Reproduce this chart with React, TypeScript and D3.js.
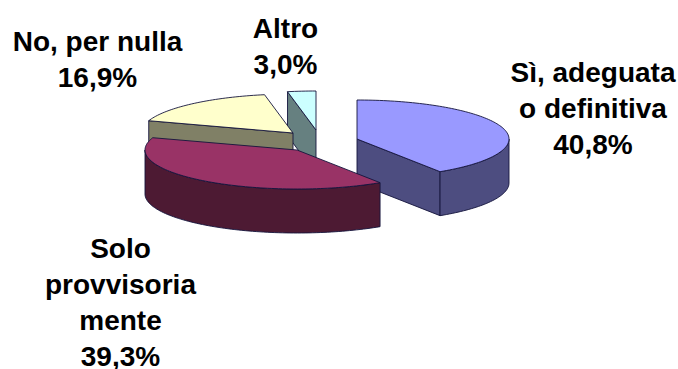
import React from "react";
import * as d3 from "d3";

const sliceNames = ["Sì, adeguata o definitiva", "Solo provvisoriamente", "No, per nulla", "Altro"];
const sliceValues = [40.8, 39.3, 16.9, 3.0];
const topColors = ["#9999ff", "#993366", "#ffffcc", "#ccffff"];
const sideColors = ["#4d4d80", "#4d1a33", "#808066", "#668080"];

const labelLines = [
  ["Sì, adeguata", "o definitiva", "40,8%"],
  ["Solo", "provvisoria", "mente", "39,3%"],
  ["No, per nulla", "16,9%"],
  ["Altro", "3,0%"],
];
const labelAnchors = [
  { x: 593, y: 82 },
  { x: 120.5, y: 258 },
  { x: 97.5, y: 51 },
  { x: 285.5, y: 38 },
];
const lineHeight = 36;

// Exploded wedge centres on the projected plane
const centres = [
  { x: 357, y: 139 },
  { x: 297, y: 150 },
  { x: 293, y: 133 },
  { x: 316, y: 130 },
];
const RX = 152;
const RY = 39;
const DEPTH = 44;

const slices = d3.pie<number>().sort(null).value((v) => v)(sliceValues);
const sx = d3.scaleLinear().domain([-1, 1]).range([-RX, RX]);
const sy = d3.scaleLinear().domain([-1, 1]).range([RY, -RY]);

type Pt = [number, number];
const rim = (i: number, a: number, drop = 0): Pt => [
  centres[i].x + sx(Math.sin(a)),
  centres[i].y + sy(Math.cos(a)) + drop,
];
const arcPoints = (i: number, a0: number, a1: number, drop = 0): Pt[] => {
  const n = Math.max(2, Math.ceil(Math.abs(a1 - a0) * 40));
  return d3.range(n + 1).map((k) => rim(i, a0 + ((a1 - a0) * k) / n, drop));
};
const closed = d3.line();
const polygon = (pts: Pt[]) => closed(pts) + "Z";

const topFace = (i: number) => {
  const c: Pt = [centres[i].x, centres[i].y];
  return polygon([c, ...arcPoints(i, slices[i].startAngle, slices[i].endAngle)]);
};
// Outer wall, only the part facing the viewer (between 90° and 270°)
const outerWall = (i: number) => {
  const a0 = Math.max(slices[i].startAngle, Math.PI / 2);
  const a1 = Math.min(slices[i].endAngle, (3 * Math.PI) / 2);
  if (a1 <= a0) return null;
  return polygon([...arcPoints(i, a0, a1), ...arcPoints(i, a1, a0, DEPTH)]);
};
// Flat cut wall running from the rim at angle a to the wedge centre
const cutWall = (i: number, a: number) => {
  const c: Pt = [centres[i].x, centres[i].y];
  const r = rim(i, a);
  return polygon([c, r, [r[0], r[1] + DEPTH], [c[0], c[1] + DEPTH]]);
};

const stroke = "#14143c";

const Wedge = ({ i, cut }: { i: number; cut: number | null }) => {
  const wall = outerWall(i);
  return (
    <g stroke={stroke} strokeWidth={0.9} strokeLinejoin="round">
      <title>{sliceNames[i]}</title>
      {cut !== null && <path d={cutWall(i, cut)} fill={sideColors[i]} />}
      {wall && <path d={wall} fill={sideColors[i]} />}
      <path d={topFace(i)} fill={topColors[i]} />
    </g>
  );
};

export default function App() {
  return (
    <svg
      width={678}
      height={369}
      viewBox="0 0 678 369"
      style={{ position: "absolute", left: 0, top: 0, background: "#fff" }}
    >
      <Wedge i={3} cut={slices[3].startAngle} />
      <Wedge i={2} cut={slices[2].startAngle} />
      <Wedge i={0} cut={slices[0].endAngle} />
      <Wedge i={1} cut={null} />
      <g
        fontFamily="'Liberation Sans', Arial, sans-serif"
        fontWeight={700}
        fontSize={28}
        textAnchor="middle"
        fill="#000"
      >
        {labelLines.map((lines, i) => (
          <text key={i} x={labelAnchors[i].x} y={labelAnchors[i].y}>
            {lines.map((t, j) => (
              <tspan key={j} x={labelAnchors[i].x} dy={j === 0 ? 0 : lineHeight}>
                {t}
              </tspan>
            ))}
          </text>
        ))}
      </g>
    </svg>
  );
}
